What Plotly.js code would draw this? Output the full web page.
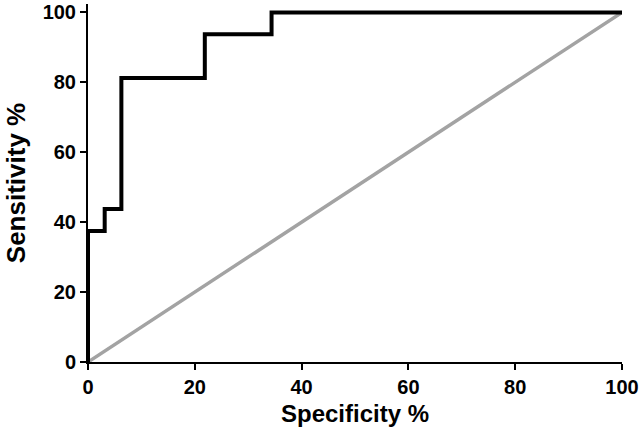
<!DOCTYPE html>
<html>
<head>
<meta charset="utf-8">
<script src="https://cdn.plot.ly/plotly-3.0.1.min.js"></script>
<style>html,body{margin:0;padding:0;background:#fff;}#chart{width:641px;height:428px;}</style>
</head>
<body>
<div id="chart"></div>
<script>
// ROC curve points
const rocX = [0, 0, 3.125, 3.125, 6.25, 6.25, 21.875, 21.875, 34.375, 34.375, 100];
const rocY = [0, 37.5, 37.5, 43.75, 43.75, 81.25, 81.25, 93.75, 93.75, 100, 100];
const refX = [0, 100];
const refY = [0, 100];
const tickVals = [0, 20, 40, 60, 80, 100];
const tickText = ["0", "20", "40", "60", "80", "100"];

const font = "Liberation Sans, Arial, sans-serif";
const boldTicks = tickText.map(t => "<b>" + t + "</b>");

const traces = [
  {x: refX, y: refY, mode: "lines", line: {color: "#a3a3a3", width: 3.5}, hoverinfo: "skip", cliponaxis: false},
  {x: rocX, y: rocY, mode: "lines", line: {color: "#000000", width: 4}, hoverinfo: "skip", cliponaxis: false}
];

const layout = {
  width: 641, height: 428,
  margin: {l: 88, r: 19, t: 4, b: 66},
  paper_bgcolor: "#fff", plot_bgcolor: "#fff",
  showlegend: false,
  xaxis: {
    range: [0, 100], tickvals: tickVals, ticktext: boldTicks,
    showgrid: false, zeroline: false, showline: true, linecolor: "#000", linewidth: 2,
    ticks: "outside", ticklen: 6, tickwidth: 2, tickcolor: "#000",
    tickfont: {family: font, size: 20, color: "#000"},
    title: {text: "<b>Specificity %</b>", font: {family: font, size: 24, color: "#000"}, standoff: 8}
  },
  yaxis: {
    range: [0, 102.4], tickvals: tickVals, ticktext: boldTicks,
    showgrid: false, zeroline: false, showline: true, linecolor: "#000", linewidth: 2,
    ticks: "outside", ticklen: 6, tickwidth: 2, tickcolor: "#000",
    tickfont: {family: font, size: 20, color: "#000"},
    title: {text: "<b>Sensitivity %</b>", font: {family: font, size: 26, color: "#000"}, standoff: 10}
  }
};

Plotly.newPlot("chart", traces, layout, {displayModeBar: false, staticPlot: true});
</script>
</body>
</html>
